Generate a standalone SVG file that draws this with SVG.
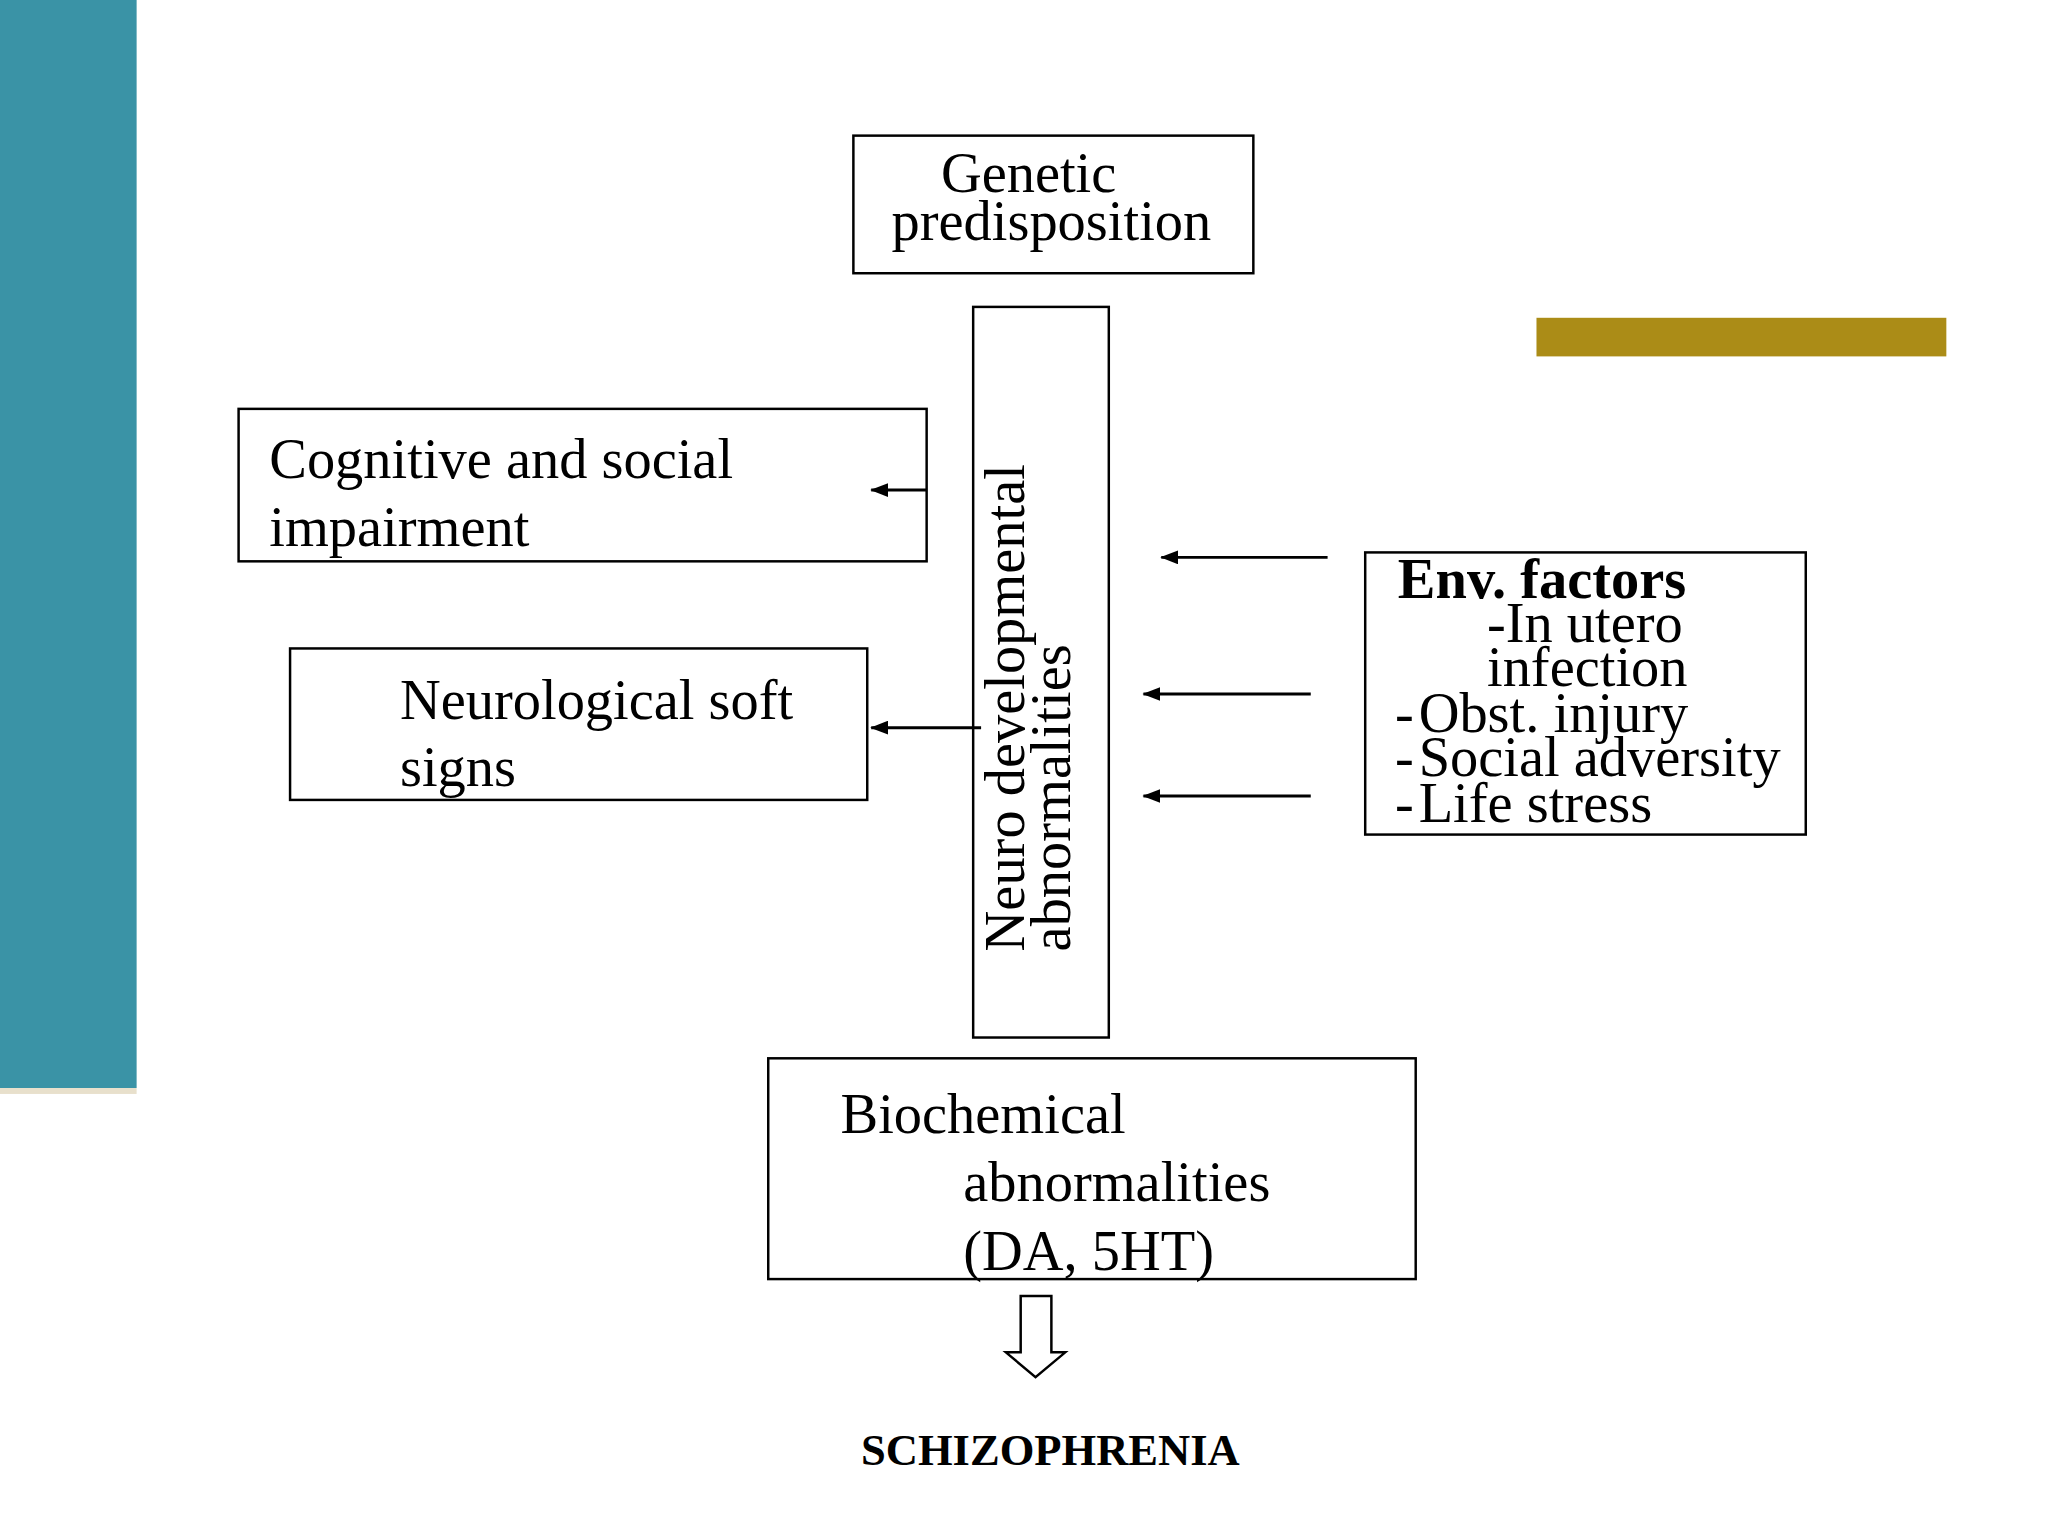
<svg xmlns="http://www.w3.org/2000/svg" width="2048" height="1536" viewBox="0 0 2048 1536">
<defs>
<marker id="ah" markerWidth="18" markerHeight="14" refX="17" refY="7" orient="auto" markerUnits="userSpaceOnUse" viewBox="0 0 18 14"><path d="M0,0 L18,7 L0,14 Z" fill="#000"/></marker>
</defs>
<style>
.b{fill:#fff;stroke:#000;stroke-width:2.5}
.t{font-family:"Liberation Serif",serif;font-size:57px;fill:#000}
.c{stroke:#000;stroke-width:3;fill:none;marker-end:url(#ah)}
</style>
<rect width="2048" height="1536" fill="#fff"/>
<g transform="scale(0.99)">
<rect x="0" y="0" width="138" height="1099" fill="#3a93a6"/>
<rect x="0" y="1099" width="138" height="6" fill="#e8e0cc"/>
<rect x="1552" y="321" width="414" height="39" fill="#ab8c17"/>
<g id="genetic"><rect class="b" x="862" y="137" width="404" height="139"/>
<text class="t" x="1039" y="194" text-anchor="middle">Genetic</text>
<text class="t" x="1062" y="242" text-anchor="middle">predisposition</text></g>
<g id="neuro"><rect class="b" x="983" y="310" width="137" height="738"/>
<text class="t" transform="translate(1034,961) rotate(-90)">Neuro developmental</text>
<text class="t" transform="translate(1081,961) rotate(-90)">abnormalities</text></g>
<g id="cognitive"><rect class="b" x="241" y="413" width="695" height="154"/>
<text class="t" x="272" y="483">Cognitive and social</text>
<text class="t" x="272" y="552">impairment</text></g>
<g id="soft"><rect class="b" x="293" y="655" width="583" height="153"/>
<text class="t" x="404" y="726">Neurological soft</text>
<text class="t" x="404" y="794">signs</text></g>
<g id="env"><rect class="b" x="1379" y="558" width="445" height="285"/>
<text class="t" x="1412" y="604" font-weight="bold">Env. factors</text>
<text class="t" x="1502" y="649">-In utero</text>
<text class="t" x="1502" y="693">infection</text>
<text class="t" x="1409" y="739">-</text><text class="t" x="1433" y="739">Obst. injury</text>
<text class="t" x="1409" y="784">-</text><text class="t" x="1433" y="784">Social adversity</text>
<text class="t" x="1409" y="830">-</text><text class="t" x="1433" y="830">Life stress</text></g>
<g id="biochem"><rect class="b" x="776" y="1069" width="654" height="223"/>
<text class="t" x="849" y="1144">Biochemical</text>
<text class="t" x="973" y="1213">abnormalities</text>
<text class="t" x="973" y="1283">(DA, 5HT)</text></g>
<g id="schizo"><text x="1061" y="1480" text-anchor="middle" font-family="Liberation Serif,serif" font-weight="bold" font-size="45">SCHIZOPHRENIA</text></g>
<g id="connectors">
<line class="c" x1="936" y1="495" x2="880" y2="495"/>
<line class="c" x1="991" y1="735" x2="880" y2="735"/>
<line class="c" x1="1341" y1="563" x2="1173" y2="563"/>
<line class="c" x1="1324" y1="701" x2="1155" y2="701"/>
<line class="c" x1="1324" y1="804" x2="1155" y2="804"/>
<path d="M1031,1309 H1062 V1366 H1076 L1046,1391 L1016,1366 H1031 Z" fill="#fff" stroke="#000" stroke-width="2.5"/>
</g>
</g>
</svg>
